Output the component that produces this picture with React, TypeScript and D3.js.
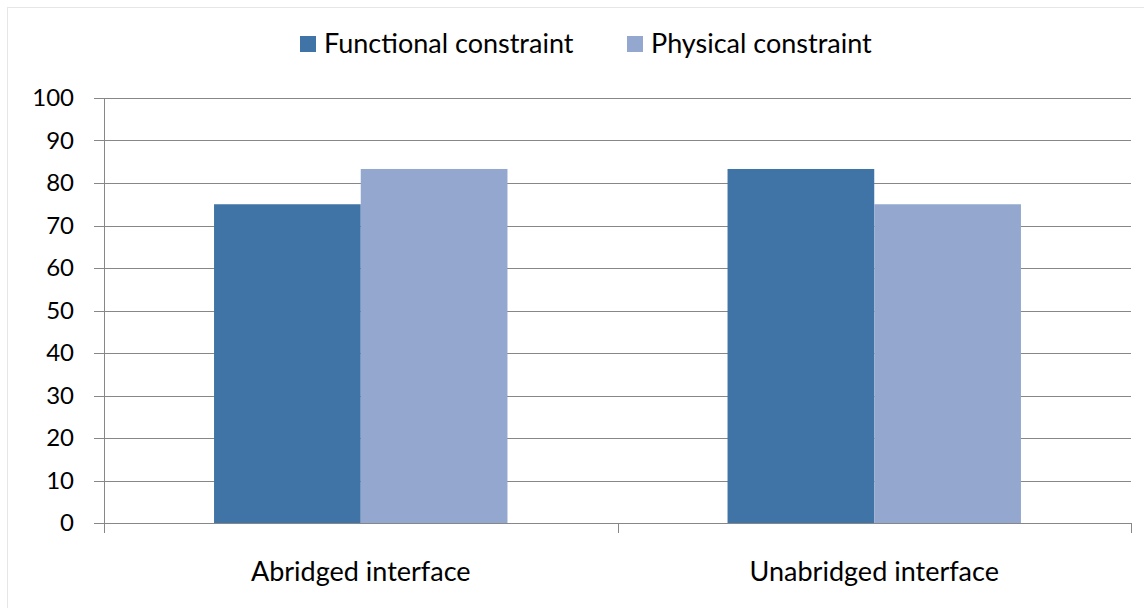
import React from "react";
import * as d3 from "d3";

const categories = ["Abridged interface", "Unabridged interface"];
const seriesNames = ["Functional constraint", "Physical constraint"];
const functionalValues = [75, 83.3];
const physicalValues = [83.3, 75];
const yTicks = [0, 10, 20, 30, 40, 50, 60, 70, 80, 90, 100];

const colors = ["#4174a6", "#94a8cf"];
const axisColor = "#878787";
const font = "Lato, 'Open Sans', sans-serif";

const W = 1144;
const H = 608;
const margin = { top: 98, right: 13, bottom: 85, left: 104 };

export default function App() {
  const innerW = W - margin.left - margin.right;
  const innerH = H - margin.top - margin.bottom;

  const x0 = d3.scaleBand().domain(categories).range([0, innerW]).paddingInner(0).paddingOuter(0);
  // Excel-style gap width 150%: group = 2 bars, gap = 1.5 bars
  const barW = x0.bandwidth() / 3.5;
  const x1 = d3
    .scaleBand()
    .domain(seriesNames)
    .range([0.75 * barW, 2.75 * barW]);
  const y = d3.scaleLinear().domain([0, 100]).range([innerH, 0]);

  const series = [functionalValues, physicalValues];

  // legend layout
  const legendX = [300, 627];

  return (
    <svg
      width={W}
      height={H}
      style={{ position: "absolute", left: 0, top: 0, display: "block", background: "#fff" }}
    >
      <rect x={7.5} y={7.5} width={W} height={H} fill="#fff" stroke="#e6e6e6" />

      {/* legend */}
      {seriesNames.map((name, i) => (
        <g key={name} transform={`translate(${legendX[i]},44)`}>
          <rect x={0} y={-8} width={16} height={16} fill={colors[i]} />
          <text x={24} y={0} dy="0.35em" fontFamily={font} fontSize={27} fill="#000">
            {name}
          </text>
        </g>
      ))}

      <g transform={`translate(${margin.left},${margin.top})`}>
        {/* gridlines and y ticks */}
        {yTicks.map((t) => (
          <g key={t}>
            <line x1={-10} x2={innerW} y1={Math.round(y(t)) + 0.5} y2={Math.round(y(t)) + 0.5} stroke={axisColor} />
            <text
              x={-30}
              y={y(t)}
              dy="0.35em"
              textAnchor="end"
              fontFamily={font}
              fontSize={24}
              fill="#000"
            >
              {t}
            </text>
          </g>
        ))}

        {/* bars */}
        {categories.map((c, ci) => (
          <g key={c} transform={`translate(${x0(c)},0)`}>
            {seriesNames.map((s, si) => (
              <rect
                key={s}
                x={x1(s)}
                y={y(series[si][ci])}
                width={x1.bandwidth()}
                height={innerH - y(series[si][ci])}
                fill={colors[si]}
              />
            ))}
          </g>
        ))}

        {/* y axis */}
        <line x1={0.5} x2={0.5} y1={0} y2={innerH} stroke={axisColor} />
        {/* x axis */}
        <line x1={0} x2={innerW} y1={Math.round(innerH) + 0.5} y2={Math.round(innerH) + 0.5} stroke={axisColor} />
        {[0, 1, 2].map((i) => {
          const xx = Math.round(i * x0.bandwidth()) + 0.5;
          return <line key={i} x1={xx} x2={xx} y1={innerH} y2={innerH + 10} stroke={axisColor} />;
        })}

        {/* category labels */}
        {categories.map((c) => (
          <text
            key={c}
            x={(x0(c) as number) + x0.bandwidth() / 2}
            y={innerH + 49}
            dy="0.35em"
            textAnchor="middle"
            fontFamily={font}
            fontSize={27}
            fill="#000"
          >
            {c}
          </text>
        ))}
      </g>
    </svg>
  );
}
